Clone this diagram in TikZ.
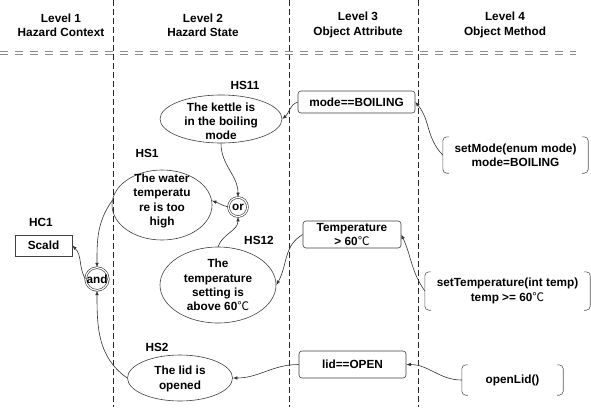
\documentclass[tikz,border=0pt]{standalone}
\usepackage{fontspec}
\setmainfont{Liberation Sans}
\newfontfamily\cjkfont{Noto Sans CJK SC}
\usetikzlibrary{shapes.geometric,arrows.meta}
\newcommand\degC{{\cjkfont\mdseries ℃}}
\begin{document}
\begin{tikzpicture}[x=1pt,y=1pt,
  font=\fontsize{11.8}{14.2}\selectfont\bfseries,
  conn/.style={draw=black!80, line width=0.6pt, -{Latex[length=4.5pt,width=3.5pt]}},
  ell/.style={ellipse, draw=black!75, line width=0.6pt, inner sep=0pt},
  attr/.style={rectangle, rounded corners=3pt, draw=black!75, line width=0.6pt, align=center, inner sep=1pt},
  meth/.style={rectangle, align=center, inner sep=1pt},
  txt/.style={align=center, inner sep=0pt},
  gate/.style={circle, draw=black!80, double, double distance=1.2pt, line width=0.6pt, inner sep=0pt},
  vsep/.style={draw=black!85, line width=0.9pt, dash pattern=on 5.5pt off 3.5pt},
  hsep/.style={draw=black!45, line width=0.8pt, dash pattern=on 8pt off 7pt},
  brk/.style={draw=black!65, line width=0.6pt, rounded corners=4pt}
]
\useasboundingbox (0,0) rectangle (591,-407);
\fill[white] (0,0) rectangle (591,-407);

% separators
\coordinate (v1t) at (113,0);   \coordinate (v1b) at (113,-407);
\coordinate (v2t) at (289,0);   \coordinate (v2b) at (289,-407);
\coordinate (v3t) at (418,0);   \coordinate (v3b) at (418,-407);
\draw[vsep] (v1t) -- (v1b);
\draw[vsep] (v2t) -- (v2b);
\draw[vsep] (v3t) -- (v3b);
\coordinate (h1l) at (0,-51.7); \coordinate (h1r) at (576,-51.7);
\coordinate (h2l) at (0,-54.5); \coordinate (h2r) at (576,-54.5);
\draw[hsep] (h1l) -- (h1r);
\draw[hsep] (h2l) -- (h2r);

% headers
\node[txt] (t1) at (61,-25) {Level 1\\Hazard Context};
\node[txt] (t2) at (203,-25) {Level 2\\Hazard State};
\node[txt] (t3) at (358,-25) {Level 3\\Object Attribute};
\node[txt] (t4) at (505,-25) {Level 4\\Object Method};

% labels
\node[txt] (lhs11) at (245,-85) {HS11};
\node[txt] (lhs1) at (147,-153) {HS1};
\node[txt] (lhs12) at (259,-240) {HS12};
\node[txt] (lhs2) at (157,-347) {HS2};
\node[txt] (lhc1) at (41,-222) {HC1};

% ellipses
\node[ell, minimum width=122pt, minimum height=48pt] (hs11) at (221,-119) {};
\node[txt] (hs11t) at (221,-121) {The kettle is\\in the boiling\\mode};
\node[ell, minimum width=100pt, minimum height=70pt] (hs1) at (162,-205) {};
\node[txt] (hs1t) at (162,-201) {The water\\temperatu\\re is too\\high};
\node[ell, minimum width=116pt, minimum height=76pt] (hs12) at (218,-285) {};
\node[txt] (hs12t) at (218,-285) {The\\temperature\\setting is\\above 60\degC};
\node[ell, minimum width=105pt, minimum height=46pt] (hs2) at (180,-378) {};
\node[txt] (hs2t) at (180,-379) {The lid is\\opened};

% context
\node[rectangle, draw=black!75, line width=0.6pt, minimum width=57pt, minimum height=21pt, inner sep=0pt] (scald) at (43.5,-245.5) {Scald};

% gates
\node[gate, minimum size=22pt] (and) at (97,-279) {and};
\node[gate, minimum size=19pt] (or) at (238,-207) {or};

% attributes
\node[attr, minimum width=117pt, minimum height=22pt] (mode) at (356.5,-102) {mode==BOILING};
\node[attr, minimum width=98pt, minimum height=27pt] (temp) at (352,-234.5) {Temperature\\> 60\degC};
\node[attr, minimum width=107pt, minimum height=27pt] (lid) at (352.5,-364.5) {lid==OPEN};

% methods
\node[meth, minimum width=145pt, minimum height=36pt] (m1) at (515.5,-155) {setMode(enum mode)\\mode=BOILING};
\node[meth, minimum width=165pt, minimum height=38pt] (m2) at (507.5,-291) {setTemperature(int temp)\\temp >= 60\degC};
\node[meth, minimum width=101pt, minimum height=30pt] (m3) at (512.5,-380) {openLid()};
\foreach \n in {m1,m2,m3}{
  \draw[brk] ([xshift=6pt]\n.north west) -- (\n.north west) -- (\n.south west) -- ([xshift=6pt]\n.south west);
  \draw[brk] ([xshift=-6pt]\n.north east) -- (\n.north east) -- (\n.south east) -- ([xshift=-6pt]\n.south east);
}

% connectors
\draw[conn] (m1.west) to[out=135,in=-50] (mode.east);
\draw[conn] (mode.west) to[out=200,in=40] (hs11.east);
\draw[conn] (hs11.south) to[out=-90,in=90] (or.north);
\draw[conn] (or.west) to[out=165,in=-20] (hs1.5);
\draw[conn] (hs12.north) to[out=70,in=-90] (or.south);
\draw[conn] (temp.west) to[out=210,in=60] (hs12.east);
\draw[conn] (m2.west) to[out=125,in=-65] (temp.east);
\draw[conn] (hs1.175) to[out=235,in=90] (and.north);
\draw[conn] (and.west) to[out=120,in=-45] (scald.east);
\draw[conn] (hs2.west) to[out=145,in=-90] (and.south);
\draw[conn] (lid.west) to[out=180,in=0] (hs2.east);
\draw[conn] (m3.west) to[out=180,in=0] (lid.east);
\end{tikzpicture}
\end{document}
